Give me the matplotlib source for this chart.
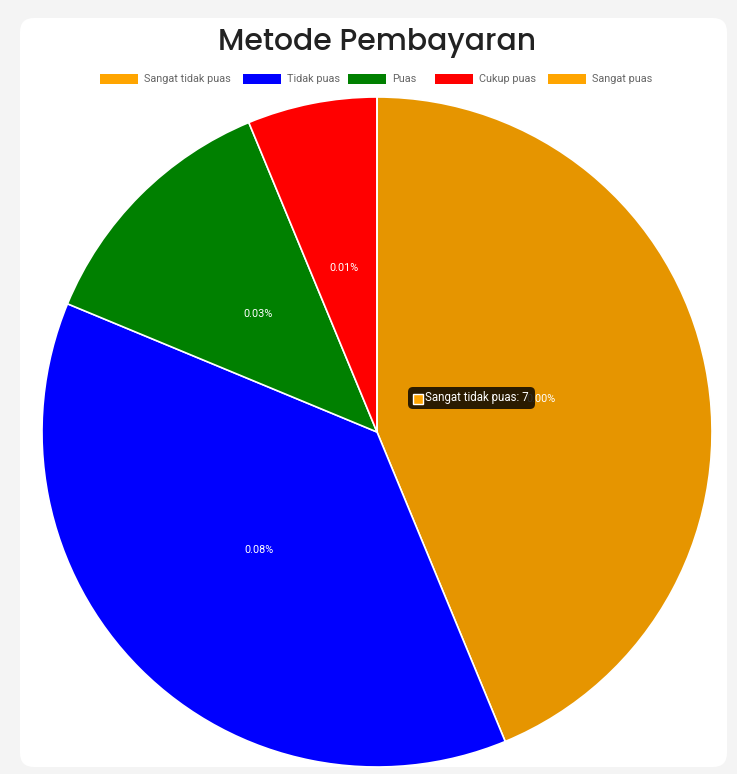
import matplotlib
matplotlib.use("Agg")
import matplotlib.pyplot as plt
import numpy as np
from matplotlib.patches import FancyBboxPatch, Rectangle

categories = ["Sangat tidak puas", "Tidak puas", "Puas", "Cukup puas", "Sangat puas"]
values = [7, 6, 2, 1, 0]
slice_labels = ["0.00%", "0.08%", "0.03%", "0.01%", ""]
legend_colors = ["#FFA500", "#0000FF", "#008000", "#FF0000", "#FFA500"]
pie_colors = ["#E69500", "#0000FF", "#008000", "#FF0000", "#FFA500"]
title = "Metode Pembayaran"
tooltip_text = "Sangat tidak puas: 7"

W, H = 737, 774
fig = plt.figure(figsize=(W / 100, H / 100), dpi=100)
fig.patch.set_facecolor("#F4F4F4")
ax = fig.add_axes([0, 0, 1, 1])
ax.set_xlim(0, W)
ax.set_ylim(0, H)
ax.set_aspect("equal")
ax.axis("off")

def Y(y):
    return H - y

# card
card = FancyBboxPatch((20, Y(767)), 707, 749, boxstyle="round,pad=0,rounding_size=14",
                      facecolor="white", edgecolor="none", zorder=0)
ax.add_patch(card)

# title
ax.text(377, Y(43), title, ha="center", va="center", fontsize=21.5, fontweight="medium",
        family=["Poppins", "Open Sans", "DejaVu Sans"], color="#222222", zorder=5)

# pie
cx, cy, R = 377, 432, 335
wedges, _ = ax.pie(values, colors=pie_colors, startangle=90, counterclock=False,
                   center=(cx, Y(cy)), radius=R, frame=True,
                   wedgeprops=dict(edgecolor="white", linewidth=1.2))
ax.set_xlim(0, W)
ax.set_ylim(0, H)
ax.axis("off")
for w in wedges:
    w.set_zorder(2)

for w, lab in zip(wedges, slice_labels):
    if not lab:
        continue
    mid = np.deg2rad((w.theta1 + w.theta2) / 2)
    x = cx + R * 0.5 * np.cos(mid)
    y = Y(cy) + R * 0.5 * np.sin(mid)
    ax.text(x, y, lab, ha="center", va="center", fontsize=7.8, color="white",
            family=["Roboto", "DejaVu Sans"], zorder=3)

# legend
legend_box_x = [100, 243, 348, 435, 548]
for bx, name, col in zip(legend_box_x, categories, legend_colors):
    ax.add_patch(Rectangle((bx, Y(84)), 38, 10, facecolor=col, edgecolor="none", zorder=5))
    ax.text(bx + 44, Y(79), name, ha="left", va="center", fontsize=7.8, color="#666666",
            family=["Roboto", "DejaVu Sans"], zorder=5)

# tooltip
tip = FancyBboxPatch((408, Y(409)), 127, 22, boxstyle="round,pad=0,rounding_size=5",
                     facecolor="black", alpha=0.82, edgecolor="none", zorder=6)
ax.add_patch(tip)
ax.add_patch(Rectangle((413, Y(404)), 10, 10, facecolor=legend_colors[0], edgecolor="white",
                       linewidth=1, zorder=7))
ax.text(425, Y(398), tooltip_text, ha="left", va="center", fontsize=8.3, color="white",
        family=["Roboto", "DejaVu Sans"], zorder=7)

fig.savefig("out.png", dpi=100, facecolor=fig.get_facecolor())
